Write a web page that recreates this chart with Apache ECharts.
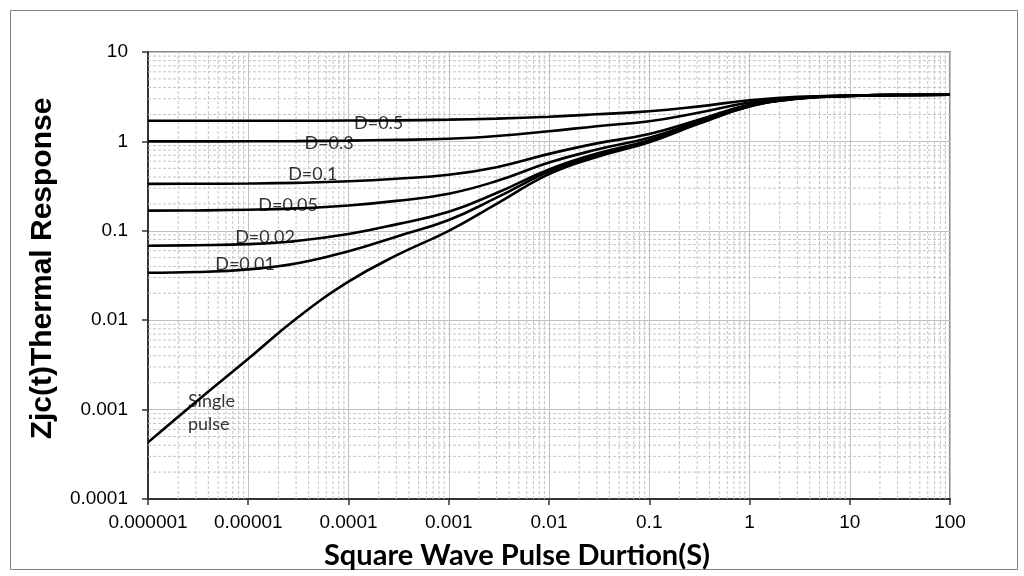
<!DOCTYPE html>
<html>
<head>
<meta charset="utf-8">
<script src="https://cdn.jsdelivr.net/npm/echarts@6/dist/echarts.min.js"></script>
<style>
  html, body { margin: 0; padding: 0; background: #fff; }
  #chart_box { width: 1024px; height: 576px; }
</style>
</head>
<body>
<div id="chart_box"></div>
<script>
// pulse duration (s)
var times = [1e-6, 3e-6, 1e-5, 3e-5, 1e-4, 3e-4, 1e-3, 3e-3, 1e-2, 3e-2, 0.1, 0.3, 1, 3, 10, 30, 100];

// Zjc(t), one array per duty cycle
var d05    = [1.70, 1.70, 1.70, 1.70, 1.71, 1.72, 1.75, 1.80, 1.89, 2.01, 2.17, 2.45, 2.88, 3.15, 3.26, 3.30, 3.32];
var d03    = [1.00, 1.00, 1.003, 1.008, 1.02, 1.04, 1.07, 1.15, 1.30, 1.48, 1.68, 2.08, 2.72, 3.10, 3.25, 3.30, 3.32];
var d01    = [0.335, 0.336, 0.338, 0.344, 0.358, 0.382, 0.423, 0.515, 0.725, 0.95, 1.21, 1.72, 2.58, 3.05, 3.24, 3.30, 3.32];
var d005   = [0.168, 0.169, 0.172, 0.178, 0.192, 0.216, 0.26, 0.36, 0.58, 0.81, 1.10, 1.65, 2.54, 3.03, 3.23, 3.30, 3.32];
var d002   = [0.068, 0.069, 0.071, 0.077, 0.092, 0.118, 0.163, 0.265, 0.485, 0.73, 1.03, 1.60, 2.50, 3.02, 3.23, 3.30, 3.32];
var d001   = [0.034, 0.0346, 0.037, 0.043, 0.059, 0.086, 0.132, 0.235, 0.46, 0.70, 1.00, 1.57, 2.47, 3.00, 3.22, 3.30, 3.32];
var single = [0.00043, 0.00122, 0.0037, 0.0104, 0.027, 0.053, 0.10, 0.20, 0.43, 0.67, 0.98, 1.55, 2.45, 3.00, 3.22, 3.30, 3.32];

var seriesNames = ["D=0.5", "D=0.3", "D=0.1", "D=0.05", "D=0.02", "D=0.01", "Single pulse"];
var seriesData = [d05, d03, d01, d005, d002, d001, single];

// curve labels: [x, y, text]
var curveLabels = [
  [2.0e-4, 1.61, "D=0.5"],
  [6.4e-5, 0.96, "D=0.3"],
  [4.4e-5, 0.43, "D=0.1"],
  [2.5e-5, 0.195, "D=0.05"],
  [1.47e-5, 0.085, "D=0.02"],
  [9.3e-6, 0.0425, "D=0.01"]
];
var singleLabel = [[2.5e-6, 0.00092, "Single\npulse"]];

var xTickLabels = ["0.000001", "0.00001", "0.0001", "0.001", "0.01", "0.1", "1", "10", "100"];
var yTickLabels = ["0.0001", "0.001", "0.01", "0.1", "1", "10"];

var xMin = 1e-6, xMax = 100, yMin = 1e-4, yMax = 10;

var mycharts = echarts.init(document.getElementById("chart_box"));

// minor grid at 2..9 of every decade, drawn as broken polylines
function minorVals(fromExp, toExp) {
  var out = [];
  for (var e = fromExp; e < toExp; e++) {
    for (var k = 2; k <= 9; k++) out.push(k * Math.pow(10, e));
  }
  return out;
}
var vLines = [];
minorVals(-6, 2).forEach(function (v) {
  vLines.push([v, yMin], [v, yMax], [v, "-"]);
});
var hLines = [];
minorVals(-4, 1).forEach(function (v) {
  hLines.push([xMin, v], [xMax, v], ["-", v]);
});

var series = [];
[vLines, hLines].forEach(function (d) {
  series.push({
    type: "line",
    data: d,
    silent: true,
    showSymbol: false,
    connectNulls: false,
    lineStyle: { color: "#c4c4c4", width: 1, type: [3, 2] },
    z: 1
  });
});

seriesData.forEach(function (vals, i) {
  series.push({
    name: seriesNames[i],
    type: "line",
    data: times.map(function (t, j) { return [t, vals[j]]; }),
    showSymbol: false,
    smooth: 0.45,
    lineStyle: { color: "#000", width: 2.6 },
    z: 5
  });
});

function labelSeries(items, align) {
  return {
    type: "scatter",
    data: items,
    symbolSize: 0,
    silent: true,
    z: 6,
    label: {
      show: true,
      position: "inside",
      formatter: function (p) { return p.data[2]; },
      fontFamily: "Lato",
      fontSize: 18,
      color: "#000",
      align: align,
      lineHeight: 23
    }
  };
}
series.push(labelSeries(curveLabels, "center"));
series.push(labelSeries(singleLabel, "left"));

var option = {
  animation: false,
  backgroundColor: "#fff",
  grid: {
    left: 148,
    top: 52,
    width: 802,
    height: 447,
    show: true,
    borderColor: "#8c8c8c",
    borderWidth: 2,
    backgroundColor: "transparent"
  },
  graphic: [{
    type: "rect",
    left: 8,
    top: 8,
    shape: { width: 1007, height: 559 },
    style: { fill: "none", stroke: "#808080", lineWidth: 1 },
    silent: true
  }],
  xAxis: {
    type: "log",
    logBase: 10,
    min: xMin,
    max: xMax,
    interval: 1,
    name: "Square Wave Pulse Durtion(S)",
    nameLocation: "middle",
    nameGap: 42,
    nameTextStyle: {
      fontFamily: "Lato",
      fontWeight: "bold",
      fontSize: 29,
      color: "#000",
      padding: [0, 64, 0, 0]
    },
    axisLine: { lineStyle: { color: "#333", width: 2 } },
    axisTick: { show: true, length: 6, lineStyle: { color: "#333", width: 1.5 } },
    axisLabel: {
      margin: 14,
      fontFamily: "Liberation Sans",
      fontSize: 19,
      color: "#000",
      formatter: function (v) { return xTickLabels[Math.round(Math.log10(v)) + 6]; }
    },
    splitLine: { show: true, lineStyle: { color: "#c0c0c0", width: 1 } }
  },
  yAxis: {
    type: "log",
    logBase: 10,
    min: yMin,
    max: yMax,
    interval: 1,
    name: "Zjc(t)Thermal Response",
    nameLocation: "middle",
    nameRotate: 90,
    nameGap: 90,
    nameTextStyle: {
      fontFamily: "Liberation Sans",
      fontWeight: "bold",
      fontSize: 30,
      color: "#000",
      padding: [0, 0, 0, 14]
    },
    axisLine: { show: true, lineStyle: { color: "#333", width: 2 } },
    axisTick: { show: true, length: 6, lineStyle: { color: "#333", width: 1.5 } },
    axisLabel: {
      margin: 20,
      fontFamily: "Liberation Sans",
      fontSize: 19,
      color: "#000",
      formatter: function (v) { return yTickLabels[Math.round(Math.log10(v)) + 4]; }
    },
    splitLine: { show: true, lineStyle: { color: "#c0c0c0", width: 1 } }
  },
  series: series
};

mycharts.setOption(option);
</script>
</body>
</html>
